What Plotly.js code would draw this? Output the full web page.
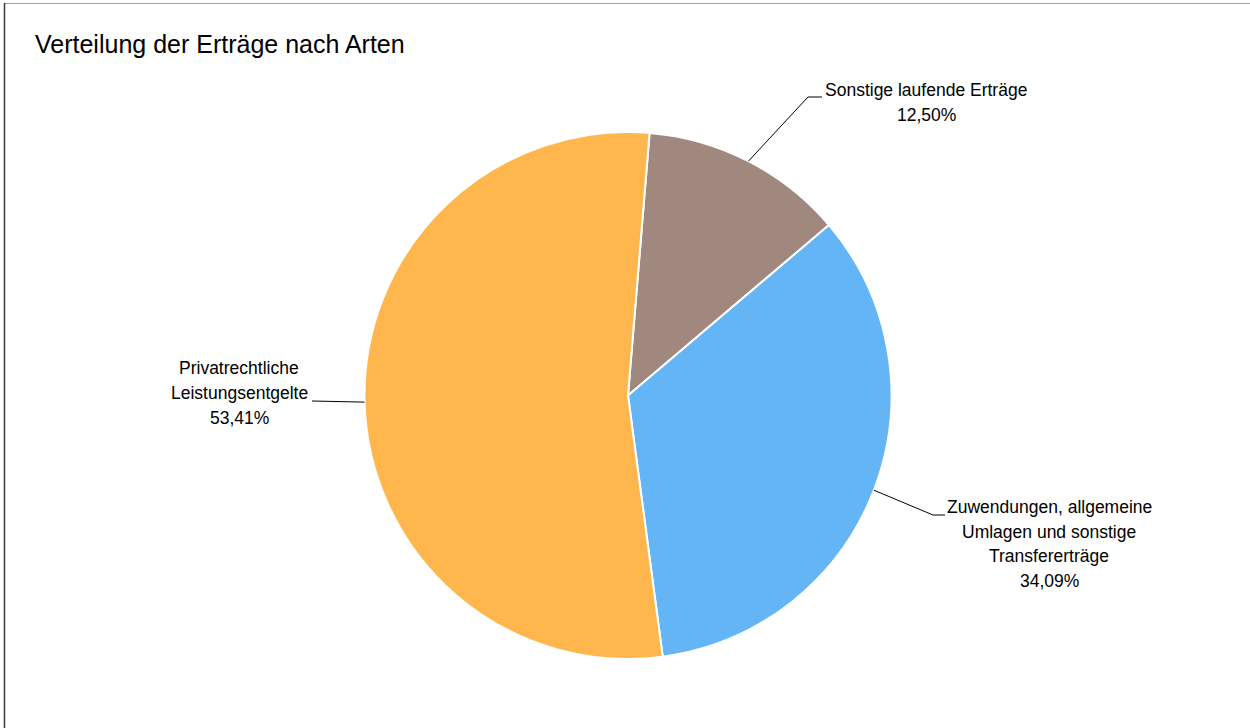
<!DOCTYPE html>
<html>
<head>
<meta charset="utf-8">
<script src="https://cdn.plot.ly/plotly-3.0.1.min.js"></script>
<style>
  html, body { margin: 0; padding: 0; background: #ffffff; }
  #chart { width: 1250px; height: 728px; }
</style>
</head>
<body>
<div id="chart"></div>
<script>
// ---- data ----
const categories = [
  "Sonstige laufende Erträge",
  "Zuwendungen, allgemeine<br>Umlagen und sonstige<br>Transfererträge",
  "Privatrechtliche<br>Leistungsentgelte"
];
const shares = [12.50, 34.09, 53.41];
const colors = ["#A1887F", "#64B5F6", "#FFB74D"];
const titleText = "Verteilung der Erträge nach Arten";

// ---- layout constants (pixels) ----
const W = 1250, H = 728;
const cx = 628, cy = 395.5, R = 263.5;
const rotationDeg = 4.7;
const lineGap = 24.8;
// label text centers and leader elbows/ends
const labelCenters = [[926, 102.5], [1049, 544], [239, 393]];
const elbows = [[[808, 97], [822, 97]], [[933, 515], [945, 515]], [[312, 401]]];

// font detection
function hasFont(name) {
  const c = document.createElement('canvas').getContext('2d');
  const s = 'Sonstige laufende Erträge WWWiii';
  c.font = '40px monospace';
  const a = c.measureText(s).width;
  c.font = "40px '" + name + "', monospace";
  const b = c.measureText(s).width;
  return Math.abs(a - b) > 0.5;
}
const narrow = hasFont('Liberation Sans Narrow') ? 'Liberation Sans Narrow' :
               (hasFont('Arial Narrow') ? 'Arial Narrow' : null);
const family = narrow ? "'" + narrow + "', 'Liberation Sans', Arial, sans-serif" : "'Liberation Sans', Arial, sans-serif";
const titleSize = narrow ? 30 : 25;
const labelSize = narrow ? 21 : 17.5;

const px = x => x / W;
const py = y => 1 - y / H;

// slice mid angles (clockwise from 12 o'clock)
const total = shares.reduce((a, b) => a + b, 0);
let acc = rotationDeg;
const mids = shares.map(v => { const span = v / total * 360; const m = acc + span / 2; acc += span; return m; });

const shapes = [];
const annotations = [];
mids.forEach((m, i) => {
  const rad = m * Math.PI / 180;
  const sx = cx + R * Math.sin(rad), sy = cy - R * Math.cos(rad);
  let path = 'M' + px(sx) + ',' + py(sy);
  elbows[i].forEach(p => { path += ' L' + px(p[0]) + ',' + py(p[1]); });
  shapes.push({type: 'path', xref: 'paper', yref: 'paper', path: path,
               line: {color: '#000000', width: 1}});
  const pct = shares[i].toFixed(2).replace('.', ',') + '%';
  const lines = categories[i].split('<br>').concat([pct]);
  const n = lines.length;
  lines.forEach((t, k) => {
    annotations.push({
      xref: 'paper', yref: 'paper', x: px(labelCenters[i][0]),
      y: py(labelCenters[i][1] + (k - (n - 1) / 2) * lineGap),
      xanchor: 'center', yanchor: 'middle', align: 'center', showarrow: false,
      text: t,
      font: {family: family, size: labelSize, color: '#000000'}
    });
  });
});

// chart border (top and left visible)
shapes.push({type: 'line', xref: 'paper', yref: 'paper', x0: px(4), x1: 1, y0: py(3.5), y1: py(3.5),
             line: {color: '#a6a6a6', width: 1}});
shapes.push({type: 'line', xref: 'paper', yref: 'paper', x0: px(4.5), x1: px(4.5), y0: py(3), y1: 0,
             line: {color: '#3a3a3a', width: 1.5}});

const trace = {
  type: 'pie',
  values: shares,
  labels: categories,
  marker: {colors: colors, line: {color: '#ffffff', width: 2}},
  sort: false,
  direction: 'clockwise',
  rotation: rotationDeg,
  textinfo: 'none',
  hoverinfo: 'label+percent',
  showlegend: false,
  domain: {x: [px(cx - R), px(cx + R)], y: [py(cy + R), py(cy - R)]}
};

const layout = {
  width: W, height: H,
  margin: {l: 0, r: 0, t: 0, b: 0},
  paper_bgcolor: '#ffffff',
  plot_bgcolor: '#ffffff',
  title: {text: titleText, x: px(35), xref: 'paper', xanchor: 'left',
          y: py(44), yref: 'paper', yanchor: 'middle',
          font: {family: family, size: titleSize, color: '#000000'}},
  shapes: shapes,
  annotations: annotations,
  showlegend: false
};

Plotly.newPlot('chart', [trace], layout, {displayModeBar: false, staticPlot: true});
</script>
</body>
</html>
